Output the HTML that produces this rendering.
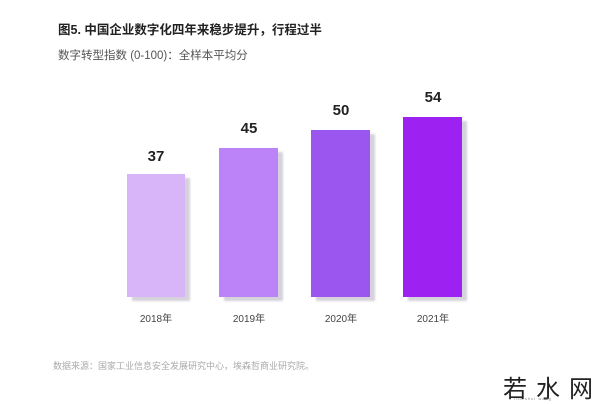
<!DOCTYPE html>
<html><head><meta charset="utf-8"><style>
body{margin:0;width:600px;height:402px;background:#fff;position:relative;overflow:hidden;font-family:"Liberation Sans","Noto Sans CJK SC",sans-serif}
.a{position:absolute;white-space:nowrap}
.bar{position:absolute;box-shadow:5px 4px 2px #d6d2dc}
.v{position:absolute;width:60px;text-align:center;font-size:15px;font-weight:bold;color:#222}
.y{position:absolute;width:60px;text-align:center;font-size:10px;color:#444;top:310px}
</style></head><body>
<div class="a" style="left:58px;top:19px;font-size:12.5px;font-weight:bold;color:#222">图5. 中国企业数字化四年来稳步提升，行程过半</div>
<div class="a" style="left:58px;top:47px;font-size:11.5px;color:#555">数字转型指数 (0-100)：全样本平均分</div>
<div class="bar" style="left:127px;top:174px;width:58px;height:123px;background:#d8b4f8"></div>
<div class="bar" style="left:219px;top:148px;width:59px;height:149px;background:#bb83f7"></div>
<div class="bar" style="left:311px;top:130px;width:59px;height:167px;background:#9a56ef"></div>
<div class="bar" style="left:403px;top:117px;width:59px;height:180px;background:#9d22f2"></div>
<div class="v" style="left:126px;top:148px">37</div>
<div class="v" style="left:219px;top:120px">45</div>
<div class="v" style="left:311px;top:102px">50</div>
<div class="v" style="left:403px;top:89px">54</div>
<div class="y" style="left:126px">2018年</div>
<div class="y" style="left:219px">2019年</div>
<div class="y" style="left:311px">2020年</div>
<div class="y" style="left:403px">2021年</div>
<div class="a" style="left:53px;top:359px;font-size:9px;color:#aaa">数据来源：国家工业信息安全发展研究中心，埃森哲商业研究院。</div>
<div class="a" style="left:503px;top:369px;font-size:24px;color:#222;letter-spacing:9px">若水网</div>
<div class="a" style="left:514px;top:396px;font-size:4px;color:#888;letter-spacing:1px">ruo shui wang</div>
</body></html>
